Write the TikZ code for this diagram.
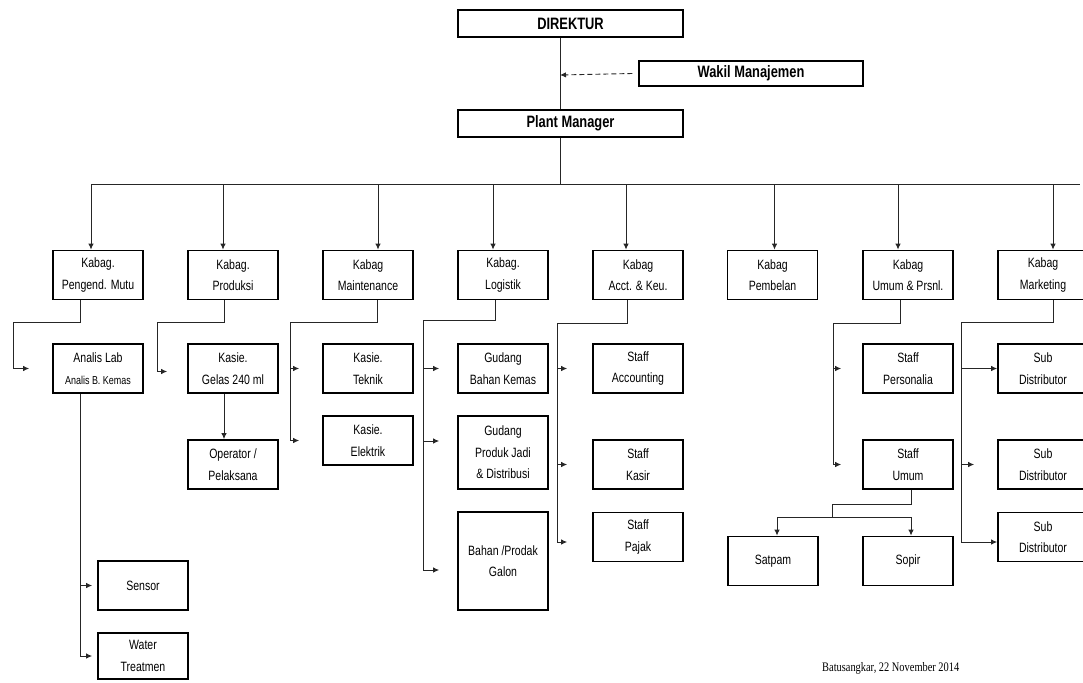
\documentclass[tikz,border=0pt]{standalone}
\usepackage{fontspec}
\setmainfont{Liberation Sans}[FakeStretch=0.78]
\newfontfamily\datefont{Liberation Serif}[FakeStretch=0.8]
\usetikzlibrary{arrows.meta}
\tikzset{
  box/.style={draw, line width=1.8pt, fill=white, minimum width=90pt, minimum height=49pt,
    inner sep=0pt, align=center, font=\fontsize{13.5}{21.5}\selectfont},
  topbox/.style={draw, line width=2.4pt, fill=white, minimum width=225pt, minimum height=27pt,
    inner sep=0pt, font=\bfseries\fontsize{16.5}{18}\selectfont},
  link/.style={line width=0.9pt, draw=black!85},
  arr/.style={link, -{Latex[length=6pt,width=5.5pt]}},
}
\begin{document}
\begin{tikzpicture}[x=1pt,y=-1pt]
\useasboundingbox (0,0) rectangle (1083,682);

\node[topbox] (dir) at (570.5,23.5) {DIREKTUR};
\node[topbox, line width=1.2pt, minimum width=224pt, minimum height=25pt] (wakil) at (751,73.5) {Wakil Manajemen};
\node[topbox] (pm) at (570.5,123.5) {Plant Manager};

\node[box] (kb1) at (98,275) {Kabag.\\Pengend. Mutu};
\node[box] (kb2) at (233,275) {Kabag.\\Produksi};
\node[box] (kb3) at (368,275) {Kabag\\Maintenance};
\node[box] (kb4) at (503,275) {Kabag.\\Logistik};
\node[box] (kb5) at (638,275) {Kabag\\Acct. \& Keu.};
\node[box] (kb6) at (772.5,275) {Kabag\\Pembelan};
\node[box] (kb7) at (908,275) {Kabag\\Umum \& Prsnl.};
\node[box] (kb8) at (1043,275) {Kabag\\Marketing};

\node[box] (lab) at (98,368.5) {Analis Lab\\{\fontsize{11.5}{13}\selectfont Analis B. Kemas}};
\node[box] (sensor) at (143,585.5) {Sensor};
\node[box, minimum height=46pt] (water) at (143,656) {Water\\Treatmen};

\node[box] (gelas) at (233,368.5) {Kasie.\\Gelas 240 ml};
\node[box] (opr) at (233,464.5) {Operator /\\Pelaksana};

\node[box] (teknik) at (368,368.5) {Kasie.\\Teknik};
\node[box] (elektrik) at (368,440.5) {Kasie.\\Elektrik};

\node[box] (gbk) at (503,368.5) {Gudang\\Bahan Kemas};
\node[box, minimum height=73pt] (gpj) at (503,452.5) {Gudang\\Produk Jadi\\\& Distribusi};
\node[box, minimum height=98pt] (galon) at (503,561) {Bahan /Prodak\\Galon};

\node[box] (acc) at (638,368.5) {Staff\\Accounting};
\node[box] (kasir) at (638,464.5) {Staff\\Kasir};
\node[box] (pajak) at (638,537) {Staff\\Pajak};

\node[box] (pers) at (908,368.5) {Staff\\Personalia};
\node[box] (umum) at (908,464.5) {Staff\\Umum};
\node[box] (satpam) at (773,561) {Satpam};
\node[box] (sopir) at (908,561) {Sopir};

\node[box] (sd1) at (1043,368.5) {Sub\\Distributor};
\node[box] (sd2) at (1043,464.5) {Sub\\Distributor};
\node[box] (sd3) at (1043,537) {Sub\\Distributor};

\node[font=\datefont\fontsize{13}{15}\selectfont, anchor=west, inner sep=0pt] (date) at (822,668) {Batusangkar, 22 November 2014};

\coordinate (wk) at (560,75);
\coordinate (bus) at (560,184);
\draw[link] ([xshift=-10.5pt]dir.south) -- ([xshift=-10.5pt]pm.north);
\draw[arr, dash pattern=on 5pt off 3pt] ([xshift=-6pt]wakil.west) -- (wk);
\draw[link] ([xshift=-10.5pt]pm.south) -- (bus);
\draw[link] ([xshift=-7pt]kb1.north |- bus) -- ([xshift=37pt]kb8.north |- bus);
\foreach \n/\d in {1/-7,2/-10,3/10,4/-10,5/-12,6/2,7/-10,8/10}
  \draw[arr] ([xshift=\d pt]kb\n.north |- bus) -- ([xshift=\d pt]kb\n.north);

\coordinate (t1) at (13,322);
\draw[arr] ([xshift=-18pt]kb1.south) |- (t1) |- ([xshift=-23pt]lab.west);
\draw[link] ([xshift=-18pt]lab.south) -- ([xshift=-18pt]lab.south |- water);
\draw[arr] ([xshift=-18pt]lab.south |- sensor) -- ([xshift=-5pt]sensor.west);
\draw[arr] ([xshift=-18pt]lab.south |- water) -- ([xshift=-5pt]water.west);

\coordinate (t2) at (157,322);
\draw[arr] ([xshift=-9pt]kb2.south) |- (t2) |- ([xshift=-20pt,yshift=-3pt]gelas.west);
\draw[arr] ([xshift=-9pt]gelas.south) -- ([xshift=-9pt]opr.north);

\coordinate (t3) at (290,322);
\draw[link] ([xshift=9pt]kb3.south) |- (t3) -- (t3 |- elektrik);
\draw[arr] (t3 |- teknik) -- ([xshift=-23pt]teknik.west);
\draw[arr] (t3 |- elektrik) -- ([xshift=-23pt]elektrik.west);

\coordinate (t4) at (423,320);
\coordinate (gpjin) at ([yshift=11.5pt]gpj.west);
\coordinate (galonin) at ([yshift=-9pt]galon.west);
\draw[link] ([xshift=-8pt]kb4.south) |- (t4) -- (t4 |- galonin);
\draw[arr] (t4 |- gbk) -- ([xshift=-18pt]gbk.west);
\draw[arr] (t4 |- gpjin) -- ([xshift=-18pt]gpjin);
\draw[arr] (t4 |- galonin) -- ([xshift=-18pt]galonin);

\coordinate (t5) at (557,323);
\coordinate (pajakin) at ([yshift=-5pt]pajak.west);
\draw[link] ([xshift=-11pt]kb5.south) |- (t5) -- (t5 |- pajakin);
\draw[arr] (t5 |- acc) -- ([xshift=-25pt]acc.west);
\draw[arr] (t5 |- kasir) -- ([xshift=-25pt]kasir.west);
\draw[arr] (t5 |- pajakin) -- ([xshift=-25pt]pajakin);

\coordinate (t7) at (833,323);
\draw[link] ([xshift=-8pt]kb7.south) |- (t7) -- (t7 |- umum);
\draw[arr] (t7 |- pers) -- ([xshift=-21pt]pers.west);
\draw[arr] (t7 |- umum) -- ([xshift=-21pt]umum.west);
\coordinate (u1) at (832,504);
\coordinate (u2) at (832,517);
\draw[link] ([xshift=3pt]umum.south) |- (u1) -- (u2);
\draw[arr] (u2) -| ([xshift=4pt]satpam.north);
\draw[arr] (u2) -| ([xshift=3pt]sopir.north);

\coordinate (t8) at (961,322);
\coordinate (sd3in) at ([yshift=-5pt]sd3.west);
\draw[link] ([xshift=10pt]kb8.south) |- (t8) -- (t8 |- sd3in);
\draw[arr] (t8 |- sd1) -- (sd1.west);
\draw[arr] (t8 |- sd2) -- ([xshift=-23pt]sd2.west);
\draw[arr] (t8 |- sd3in) -- (sd3in);
\end{tikzpicture}
\end{document}
